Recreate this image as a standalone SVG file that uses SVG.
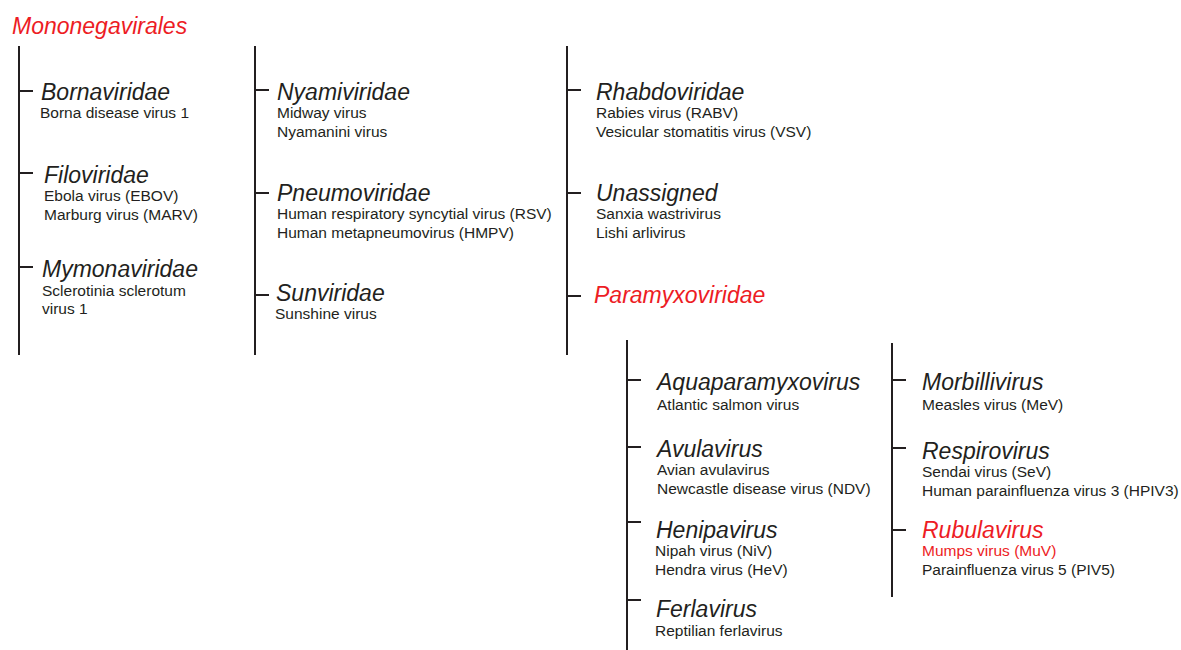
<svg xmlns="http://www.w3.org/2000/svg" width="1181" height="650" viewBox="0 0 1181 650">
<style>
.h{font-family:"Liberation Sans",Arial,sans-serif;font-style:italic;font-size:23px;fill:#231f20}
.s{font-family:"Liberation Sans",Arial,sans-serif;font-size:15.5px;fill:#231f20}
.red{fill:#ed1c24}
.ln{stroke:#231f20;stroke-width:2;fill:none}
</style>
<rect width="1181" height="650" fill="#fff"/>
<g id="connectors">
<path class="ln" d="M19,46V355M19,91H33M19,173H33M19,267H33"/>
<path class="ln" d="M255,46V355M255,90H269M255,193H269M255,295H269"/>
<path class="ln" d="M567,46V355M567,90H581M567,193H581M567,296H581"/>
<path class="ln" d="M627,340V650M627,380H641M627,447H641M627,522H641M627,600H641"/>
<path class="ln" d="M892,343V597M892,380H906M892,448H906M892,530H906"/>
</g>
<g id="root"><text class="h red" x="12" y="34">Mononegavirales</text></g>
<g id="bornaviridae"><text class="h" x="41" y="100">Bornaviridae</text><text class="s" x="40" y="118">Borna disease virus 1</text></g>
<g id="filoviridae"><text class="h" x="44" y="183">Filoviridae</text><text class="s" x="44" y="201">Ebola virus (EBOV)</text><text class="s" x="44" y="220">Marburg virus (MARV)</text></g>
<g id="mymonaviridae"><text class="h" x="42" y="277">Mymonaviridae</text><text class="s" x="42" y="296">Sclerotinia sclerotum</text><text class="s" x="42" y="314">virus 1</text></g>
<g id="nyamiviridae"><text class="h" x="277" y="100">Nyamiviridae</text><text class="s" x="277" y="118">Midway virus</text><text class="s" x="277" y="137">Nyamanini virus</text></g>
<g id="pneumoviridae"><text class="h" x="277" y="201">Pneumoviridae</text><text class="s" x="277" y="219">Human respiratory syncytial virus (RSV)</text><text class="s" x="277" y="238">Human metapneumovirus (HMPV)</text></g>
<g id="sunviridae"><text class="h" x="276" y="301">Sunviridae</text><text class="s" x="275" y="319">Sunshine virus</text></g>
<g id="rhabdoviridae"><text class="h" x="596" y="100">Rhabdoviridae</text><text class="s" x="596" y="118">Rabies virus (RABV)</text><text class="s" x="596" y="137">Vesicular stomatitis virus (VSV)</text></g>
<g id="unassigned"><text class="h" x="596" y="201">Unassigned</text><text class="s" x="596" y="219">Sanxia wastrivirus</text><text class="s" x="596" y="238">Lishi arlivirus</text></g>
<g id="paramyxoviridae"><text class="h red" x="594" y="303">Paramyxoviridae</text></g>
<g id="aquaparamyxovirus"><text class="h" x="657" y="390">Aquaparamyxovirus</text><text class="s" x="657" y="410">Atlantic salmon virus</text></g>
<g id="avulavirus"><text class="h" x="657" y="457">Avulavirus</text><text class="s" x="657" y="475">Avian avulavirus</text><text class="s" x="657" y="494">Newcastle disease virus (NDV)</text></g>
<g id="henipavirus"><text class="h" x="656" y="538">Henipavirus</text><text class="s" x="655" y="556">Nipah virus (NiV)</text><text class="s" x="655" y="575">Hendra virus (HeV)</text></g>
<g id="ferlavirus"><text class="h" x="656" y="617">Ferlavirus</text><text class="s" x="655" y="636">Reptilian ferlavirus</text></g>
<g id="morbillivirus"><text class="h" x="922" y="390">Morbillivirus</text><text class="s" x="922" y="410">Measles virus (MeV)</text></g>
<g id="respirovirus"><text class="h" x="922" y="459">Respirovirus</text><text class="s" x="922" y="477">Sendai virus (SeV)</text><text class="s" x="922" y="496">Human parainfluenza virus 3 (HPIV3)</text></g>
<g id="rubulavirus"><text class="h red" x="922" y="538">Rubulavirus</text><text class="s red" x="922" y="556">Mumps virus (MuV)</text><text class="s" x="922" y="575">Parainfluenza virus 5 (PIV5)</text></g>
</svg>
